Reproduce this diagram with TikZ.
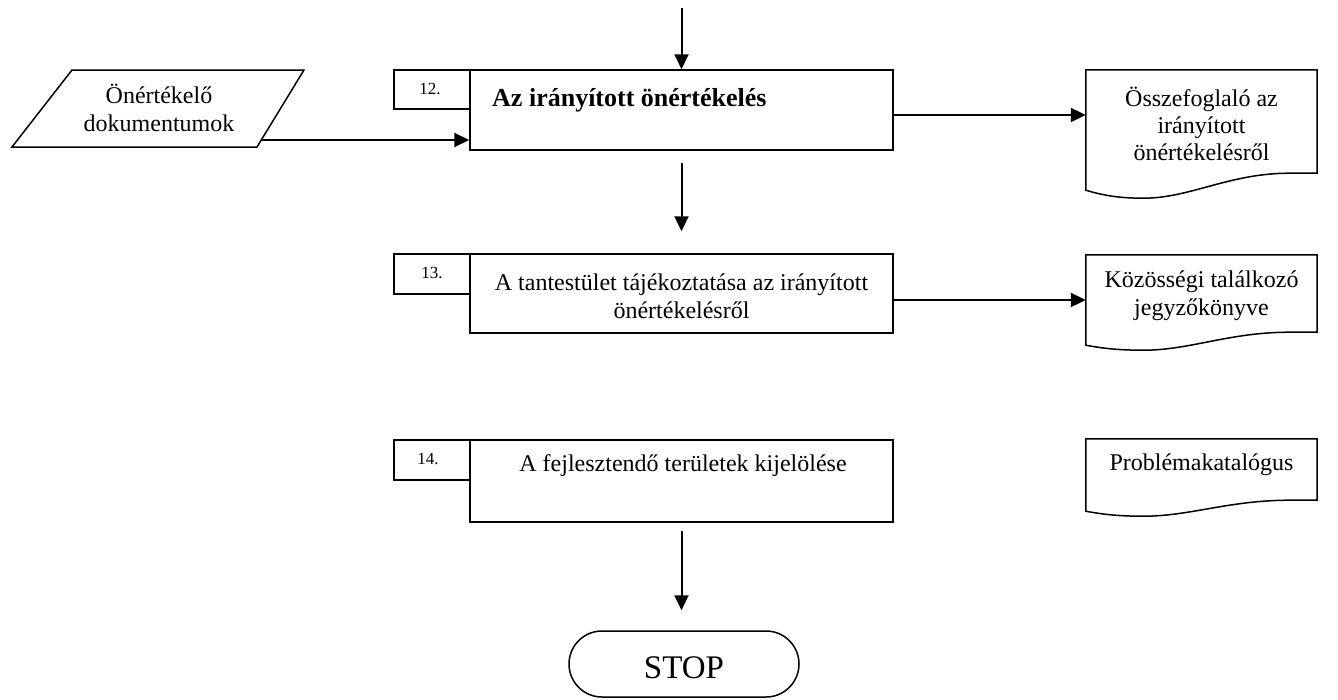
\documentclass[tikz,border=0pt]{standalone}
\usepackage{fontspec}
\setmainfont{Liberation Serif}
\usetikzlibrary{arrows.meta,calc}
\tikzset{
  boxline/.style={draw=black, line width=1.5pt},
  stepbox/.style={boxline, rectangle, minimum width=423pt, inner sep=0pt},
  numbox/.style={boxline, rectangle, minimum width=76pt, inner sep=0pt},
  arr/.style={line width=2pt, -{Triangle[length=15pt,width=14pt]}},
  body/.style={inner sep=0pt, align=center, font=\fontsize{24}{28}\selectfont},
  numtext/.style={inner sep=0pt, font=\fontsize{17}{20}\selectfont},
  docarea/.style={rectangle, minimum width=231pt, inner sep=0pt},
}
% document symbol: flat top, wavy bottom edge
% #1 node name, #2 drop of the left corner, #3 extra dip of the wave
\newcommand\docoutline[3]{%
  \draw[boxline] (#1.south east) -- (#1.north east) -- (#1.north west)
    -- ($(#1.south west)+(0,#2)$)
    .. controls ($(#1.south west)!0.08!(#1.south east)+(0,#2+#3*0.7)$)
       and ($(#1.south west)!0.15!(#1.south east)+(0,#2+#3)$)
    .. ($(#1.south west)!0.25!(#1.south east)+(0,#2+#3)$)
    .. controls ($(#1.south west)!0.45!(#1.south east)+(0,#2+#3)$)
       and ($(#1.south west)!0.62!(#1.south east)$)
    .. ($(#1.south west)!0.88!(#1.south east)$)
    -- cycle;}
\begin{document}
\begin{tikzpicture}[x=1pt,y=-1pt]
\useasboundingbox (0,0) rectangle (1338,699);

% input documents
\draw[boxline] (12,147) -- (257,147) -- (304,70) -- (72,70) -- cycle;
\node[body] (src) at (159,108) {Önértékelő\\dokumentumok};
\coordinate (srcout) at (262,140);

% step 12
\node[numbox, minimum height=39pt] (n12) at (432,89.5) {};
\node[stepbox, minimum height=80pt] (b12) at (681.5,110) {};
\node[numtext] (n12t) at (430,89) {12.};
\node[inner sep=0pt, anchor=base west, font=\bfseries\fontsize{26}{30}\selectfont] (t12) at (492,106) {Az irányított önértékelés};

% step 13
\node[numbox, minimum height=40pt] (n13) at (432,274) {};
\node[stepbox, minimum height=79pt] (b13) at (681.5,293.5) {};
\node[numtext] (n13t) at (432,273) {13.};
\node[body] (t13) at (681.5,296.5) {A tantestület tájékoztatása az irányított\\önértékelésről};

% step 14
\node[numbox, minimum height=40pt] (n14) at (432,460) {};
\node[stepbox, minimum height=82pt] (b14) at (681.5,481) {};
\node[numtext] (n14t) at (428,459) {14.};
\node[body] (t14) at (683,466) {A fejlesztendő területek kijelölése};

% output documents
\node[docarea, minimum height=103pt] (d1) at (1201.5,121.5) {};
\docoutline{d1}{17}{8}
\node[body, font=\fontsize{24}{27}\selectfont] (d1t) at (1201.5,124) {Összefoglaló az\\irányított\\önértékelésről};

\node[docarea, minimum height=77pt] (d2) at (1201.5,293.5) {};
\docoutline{d2}{13}{5}
\node[body] (d2t) at (1201.5,296) {Közösségi találkozó\\jegyzőkönyve};

\node[docarea, minimum height=61pt] (d3) at (1201.5,469.5) {};
\docoutline{d3}{11}{5}
\node[body] (d3t) at (1201.5,465) {Problémakatalógus};

% terminator
\node[boxline, rectangle, rounded corners=33pt, minimum width=230pt, minimum height=66pt, inner sep=0pt] (stop) at (684,664) {};
\node[inner sep=0pt, font=\fontsize{33}{36}\selectfont] (stopt) at (684,668) {STOP};

% flow
\coordinate (entry) at (681.5,8);
\draw[arr] (entry) -- (b12.north);
\draw[arr] (srcout) -- (srcout -| b12.west);
\draw[arr] ([yshift=-5pt]b12.east) -- ([yshift=-5pt]b12.east -| d1.west);
\draw[arr] ([yshift=-12pt]b12.south) -- ([yshift=22pt]b13.north);
\draw[arr] ([yshift=-6.5pt]b13.east) -- ([yshift=-6.5pt]b13.east -| d2.west);
\draw[arr] ([yshift=-8pt]b14.south) -- ([yshift=20pt]b14.south |- stop.north);
\end{tikzpicture}
\end{document}
